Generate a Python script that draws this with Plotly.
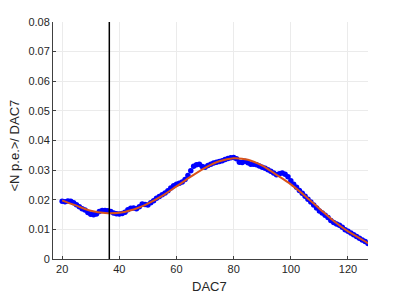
import plotly.graph_objects as go

dac = list(range(20, 128))
npe = [0.0195, 0.0193, 0.0196, 0.0195, 0.0190, 0.0183, 0.0176, 0.0170, 0.0165, 0.0157,
       0.0151, 0.0149, 0.0152, 0.0160, 0.0164, 0.0164, 0.0163, 0.0160, 0.0155, 0.0153,
       0.0152, 0.0154, 0.0158, 0.0166, 0.0171, 0.0172, 0.0170, 0.0176, 0.0186, 0.0184,
       0.0182, 0.0190, 0.0197, 0.0205, 0.0211, 0.0217, 0.0223, 0.0230, 0.0240, 0.0247,
       0.0252, 0.0256, 0.0260, 0.0268, 0.0282, 0.0298, 0.0313, 0.0318, 0.0320, 0.0312,
       0.0310, 0.0316, 0.0320, 0.0324, 0.0327, 0.0329, 0.0332, 0.0336, 0.0339, 0.0342,
       0.0343, 0.0338, 0.0327, 0.0326, 0.0330, 0.0325, 0.0320, 0.0320, 0.0318, 0.0314,
       0.0310, 0.0306, 0.0301, 0.0296, 0.0290, 0.0284, 0.0288, 0.0290, 0.0286, 0.0278,
       0.0264, 0.0252, 0.0242, 0.0231, 0.0222, 0.0212, 0.0202, 0.0192, 0.0182, 0.0172,
       0.0162, 0.0155, 0.0148, 0.0140, 0.0130, 0.0123, 0.0118, 0.0114, 0.0107, 0.0099,
       0.0094, 0.0088, 0.0082, 0.0076, 0.0070, 0.0064, 0.0059, 0.0052]

fit_dac = [20, 25, 30, 35, 40, 45, 50, 55, 60, 65, 70, 75, 80, 85, 90, 95, 100, 105, 110, 115, 120, 125, 127]
fit_val = [0.0198, 0.0180, 0.0163, 0.0155, 0.0156, 0.0167, 0.0187, 0.0213, 0.0245, 0.0278,
           0.0308, 0.0330, 0.0340, 0.0335, 0.0315, 0.0284, 0.0252, 0.0213, 0.0170, 0.0128,
           0.0093, 0.0065, 0.0053]

vline_x = 36.5
x_ticks = [20, 40, 60, 80, 100, 120]
y_ticks = [0, 0.01, 0.02, 0.03, 0.04, 0.05, 0.06, 0.07, 0.08]
y_labels = ["0", "0.01", "0.02", "0.03", "0.04", "0.05", "0.06", "0.07", "0.08"]
x_title = "DAC7"
y_title = "&lt;N p.e.&gt;/ DAC7"

fig = go.Figure()
fig.add_trace(go.Scatter(x=dac, y=npe, mode="markers",
                         marker=dict(color="#0000FF", size=5.5, line=dict(width=0)),
                         showlegend=False))
fig.add_trace(go.Scatter(x=fit_dac, y=fit_val, mode="lines",
                         line=dict(color="#D95319", width=2, shape="spline"),
                         showlegend=False))
fig.add_trace(go.Scatter(x=[vline_x, vline_x], y=[0, 0.08], mode="lines",
                         line=dict(color="black", width=1.5), showlegend=False))

axis_common = dict(showgrid=True, gridcolor="#EBEBEB", gridwidth=1,
                   showline=True, linecolor="#404040", linewidth=1,
                   ticks="inside", ticklen=3, tickcolor="#404040",
                   tickfont=dict(family="Liberation Sans, Arial", size=11, color="#262626"),
                   zeroline=False, mirror=False, automargin=False)

title_font = dict(family="Liberation Sans, Arial", size=13, color="#262626")

fig.update_layout(
    width=407, height=293,
    margin=dict(l=53, r=39, t=22, b=34),
    paper_bgcolor="white", plot_bgcolor="white",
    xaxis=dict(range=[16.8, 127], tickvals=x_ticks, **axis_common),
    yaxis=dict(range=[0, 0.08], tickvals=y_ticks, ticktext=y_labels, **axis_common),
    annotations=[
        dict(text=x_title, xref="paper", yref="paper", x=0.497, y=-0.114,
             xanchor="center", yanchor="middle", showarrow=False, font=title_font),
        dict(text=y_title, xref="paper", yref="paper", x=-0.122, y=0.477,
             xanchor="center", yanchor="middle", textangle=-90, showarrow=False, font=title_font),
    ],
)

fig.write_html("out.html", config={"displayModeBar": False},
               post_script="document.body.style.margin='0';document.body.style.overflow='hidden';")
